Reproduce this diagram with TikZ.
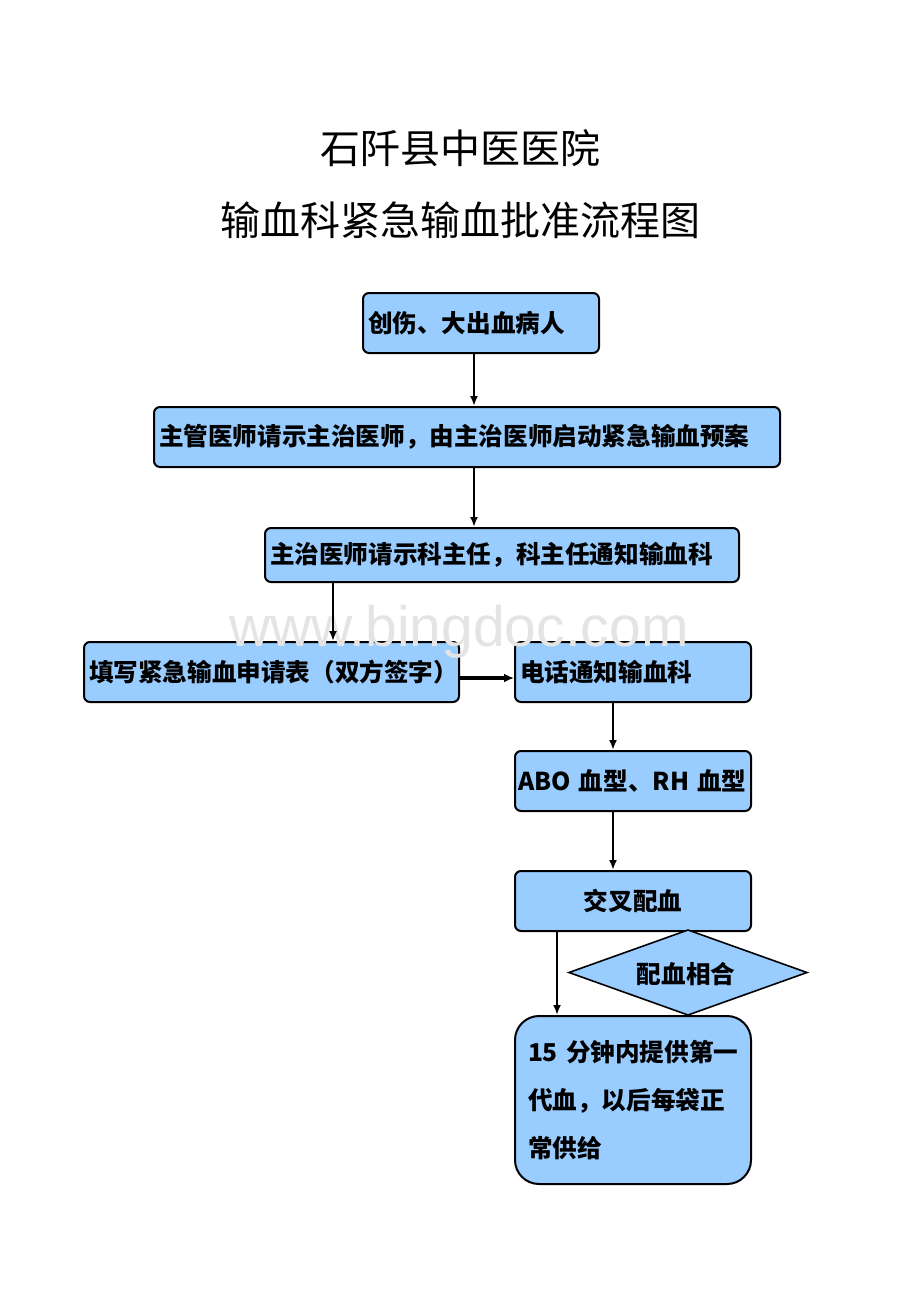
\documentclass[tikz,border=0pt]{standalone}
\usepackage{fontspec}
\newfontfamily\cjk{Noto Sans CJK SC}
\newfontfamily\wmfont{Liberation Sans}
\usetikzlibrary{positioning,arrows.meta}
\definecolor{boxblue}{HTML}{99CCFF}
\definecolor{wmgray}{HTML}{E4E4E4}

\begin{document}
\begin{tikzpicture}[x=1pt,y=-1pt,
	box/.style={draw=black, line width=2pt, fill=boxblue, rounded corners=6pt,
		anchor=north west, inner xsep=5pt, inner ysep=0pt, minimum height=60pt, align=left,
		font=\cjk\bfseries\fontsize{24.6}{28}\selectfont},
	flow/.style={line width=2.6pt, -{Latex[length=10pt,width=8pt]}},
	titel/.style={font=\cjk\fontsize{40}{44}\selectfont}]
	\useasboundingbox[fill=white] (0,0) rectangle (920,1302);

	\node[titel] (kopf1) at (460,148) {石阡县中医医院};
	\node[titel] (kopf2) at (460,220) {输血科紧急输血批准流程图};

	\node[box, text width=226pt] (chuang) at (362,292) {创伤、大出血病人};
	\node[box, text width=616pt] (guanli) at (153,406) {主管医师请示主治医师，由主治医师启动紧急输血预案};
	\node[box, text width=464pt, minimum height=54pt] (zhuzhi) at (264,527) {主治医师请示科主任，科主任通知输血科};
	\node[box, text width=365pt] (tianxie) at (83,641) {填写紧急输血申请表（双方签字）};
	\node[box, text width=226pt] (dianhua) at (514,641) {电话通知输血科};
	\node[box, text width=230pt, inner xsep=3pt] (xuexing) at (514,750) {ABO~血型、RH~血型};
	\node[box, text width=226pt, align=center] (jiaocha) at (514,870) {交叉配血};
	\node[box, text width=210pt, inner xsep=13pt, minimum height=168pt, rounded corners=24pt,
		font=\cjk\bfseries\fontsize{24.6}{48}\selectfont] (gongji) at (514,1015)
		{15~分钟内提供第一\\代血，以后每袋正\\常供给};

	% diamond
	\node[font=\cjk\bfseries\fontsize{24.6}{28}\selectfont] (xiangfu) at (686,974) {配血相合};
	\draw[line width=1.6pt, fill=boxblue] ([xshift=-117pt,yshift=1.5pt]xiangfu.center) -- ([xshift=2pt,yshift=44pt]xiangfu.center)
		-- ([xshift=121pt,yshift=1.5pt]xiangfu.center) -- ([xshift=2pt,yshift=-41pt]xiangfu.center) -- cycle;
	\node[font=\cjk\bfseries\fontsize{24.6}{28}\selectfont] at (xiangfu) {配血相合};

	% watermark
	\node[text=wmgray, font=\wmfont\fontsize{57}{60}\selectfont] (wm) at (459,632) {www.bingdoc.com};

	\draw[flow] ([xshift=-7pt]chuang.south) -- ([xshift=-7pt]chuang.south |- guanli.north);
	\draw[flow] ([xshift=7pt]guanli.south) -- ([xshift=7pt]guanli.south |- zhuzhi.north);
	\draw[flow] ([xshift=69pt]zhuzhi.south west) -- ([xshift=69pt]zhuzhi.south west |- tianxie.north);
	\draw[flow, line width=3.8pt, -{Latex[length=10pt,width=9pt]}] ([yshift=-6pt]tianxie.east) -- ([yshift=-6pt]dianhua.west);
	\draw[flow] ([xshift=-20pt]dianhua.south) -- ([xshift=-20pt]dianhua.south |- xuexing.north);
	\draw[flow] ([xshift=-20pt]xuexing.south) -- ([xshift=-20pt]xuexing.south |- jiaocha.north);
	\draw[flow] ([xshift=-76pt]jiaocha.south) -- ([xshift=-76pt]jiaocha.south |- gongji.north);
\end{tikzpicture}
\end{document}
